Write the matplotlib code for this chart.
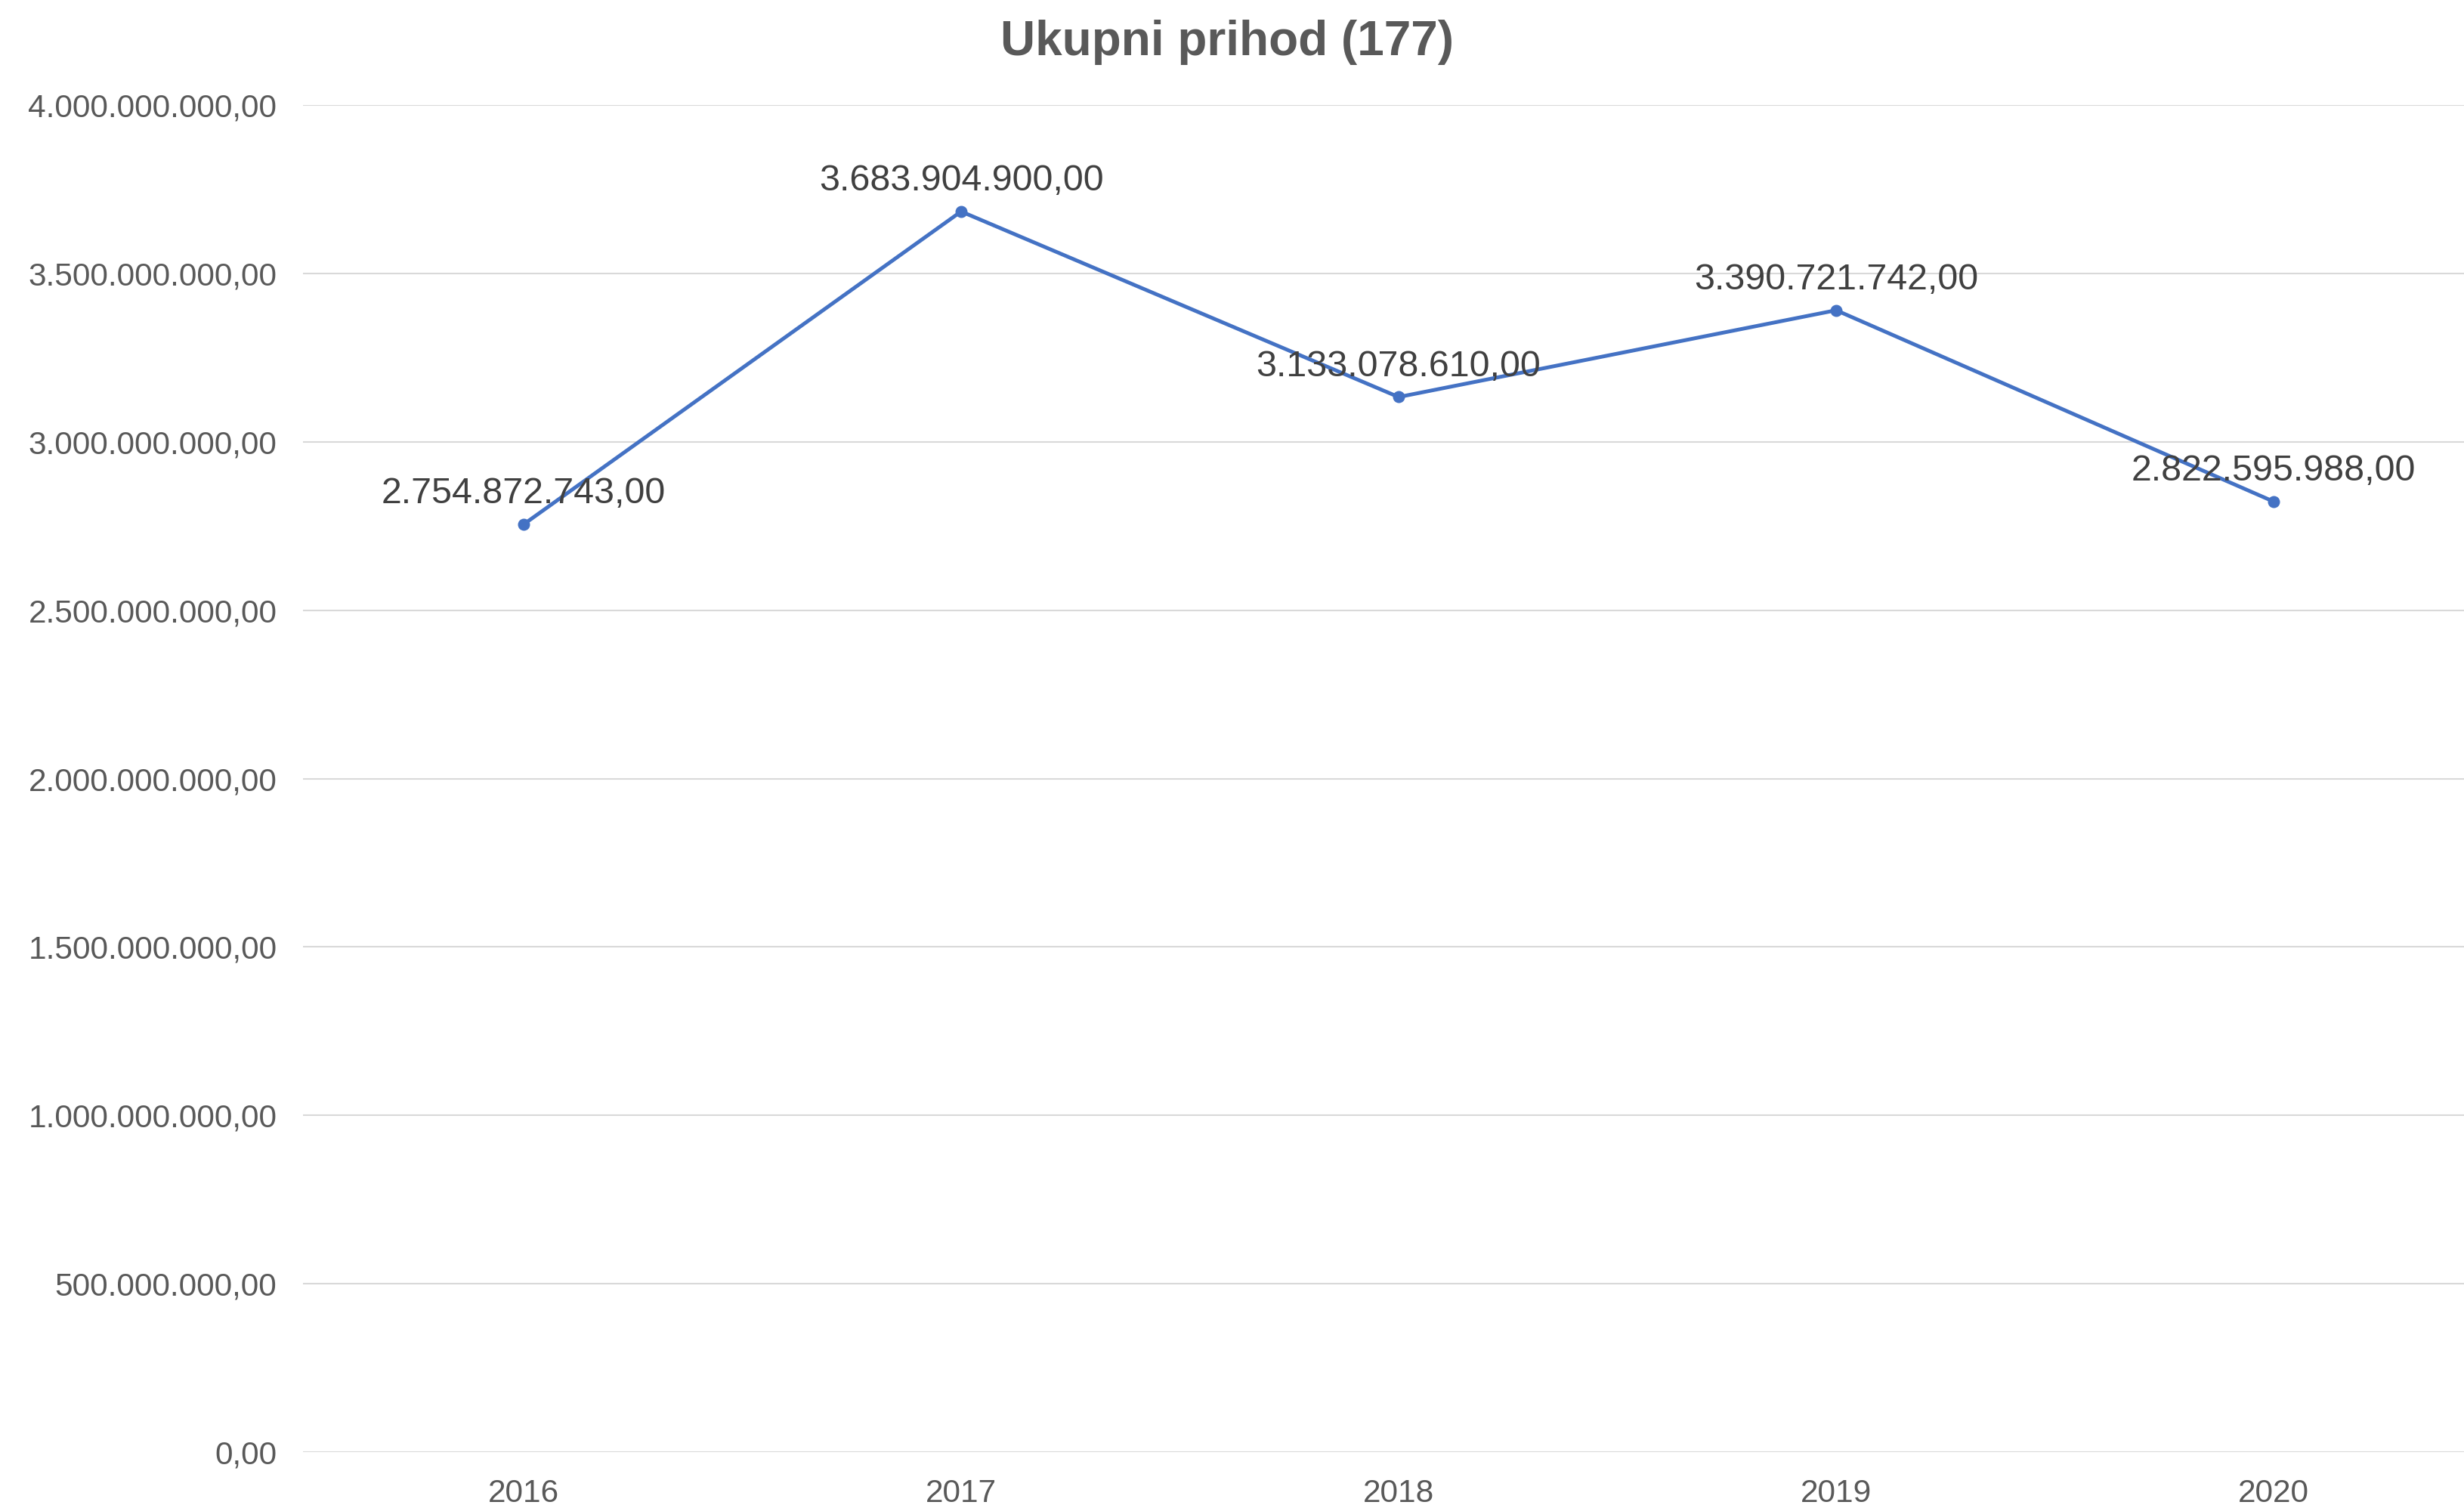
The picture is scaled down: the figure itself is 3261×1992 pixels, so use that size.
import matplotlib
matplotlib.use("Agg")
import matplotlib.pyplot as plt
from matplotlib.ticker import FuncFormatter, MultipleLocator

# ── Data ──────────────────────────────────────────────────────────────────────
years  = ["2016", "2017", "2018", "2019", "2020"]
income = [2754872743.00, 3683904900.00, 3133078610.00, 3390721742.00, 2822595988.00]

TITLE = "Ukupni prihod (177)"

C_LINE  = "#4472C4"
C_GRID  = "#D9D9D9"
C_TICK  = "#595959"
C_LABEL = "#404040"

plt.rcParams["font.family"] = ["Liberation Sans", "DejaVu Sans"]


def hr_format(v, pos=None):
    # 1234567,5 -> "1.234.567,50"
    s = f"{v:,.2f}"
    return s.replace(",", "X").replace(".", ",").replace("X", ".")


# ── Plot ──────────────────────────────────────────────────────────────────────
fig = plt.figure(figsize=(32.61, 19.92), dpi=100)
ax = fig.add_axes([0.123, 0.0351, 0.877, 0.8951])

x = list(range(len(years)))
ax.plot(x, income, color=C_LINE, linewidth=3.6, marker="o", markersize=10.5,
        zorder=3)

for xi, v in zip(x, income):
    ax.annotate(hr_format(v), (xi, v), xytext=(0, 20), textcoords="offset points",
                ha="center", va="baseline", fontsize=34.8, color=C_LABEL, zorder=4)

ax.set_xlim(-0.504, 4.435)
ax.set_ylim(0, 4e9)
ax.yaxis.set_major_locator(MultipleLocator(5e8))
ax.yaxis.set_major_formatter(FuncFormatter(hr_format))
ax.set_xticks(x)
ax.set_xticklabels(years)

ax.tick_params(axis="y", length=0, pad=25, labelsize=30.5, labelcolor=C_TICK)
ax.tick_params(axis="x", length=0, pad=25, labelsize=30.5, labelcolor=C_TICK)
ax.grid(True, axis="y", color=C_GRID, linewidth=1.5)
ax.set_axisbelow(True)
for s in ax.spines.values():
    s.set_visible(False)

fig.suptitle(TITLE, x=0.498, y=0.972, va="center", fontsize=46,
             fontweight="bold", color=C_TICK)

fig.savefig("out.png", dpi=100, facecolor="white")
